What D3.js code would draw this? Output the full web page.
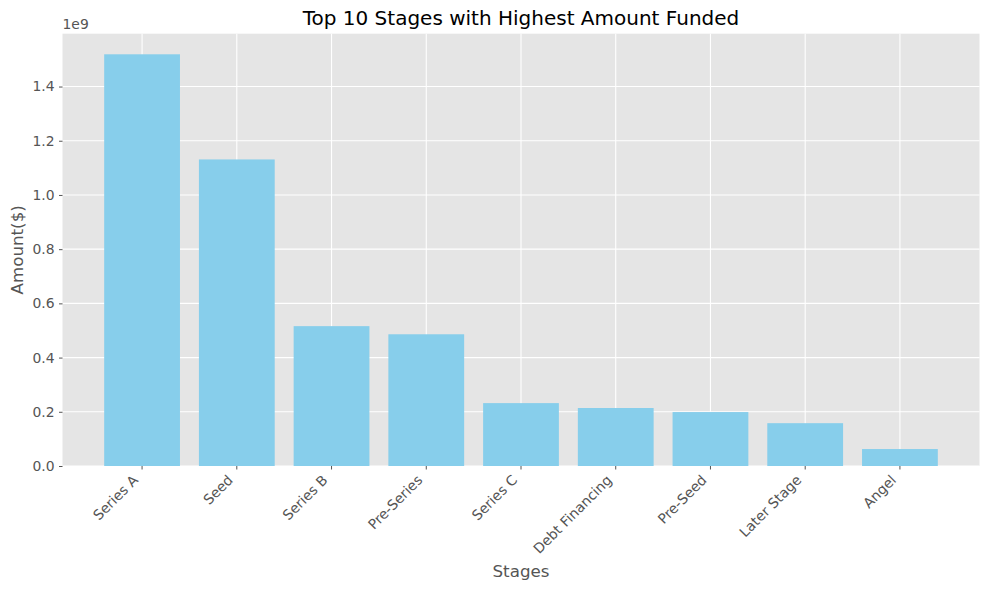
<!DOCTYPE html>
<html>
<head>
<meta charset="utf-8">
<script src="https://cdn.jsdelivr.net/npm/d3@7"></script>
<style>
  body { margin: 0; background: #fff; }
  text { font-family: "DejaVu Sans", sans-serif; }
</style>
</head>
<body>
<script>
// stages and funded amounts (dollars)
var stages = ['Series A', 'Seed', 'Series B', 'Pre-Series', 'Series C',
  'Debt Financing', 'Pre-Seed', 'Later Stage', 'Angel'];
var amounts = [1.519e9, 1.131e9, 0.516e9, 0.486e9, 0.232e9,
  0.214e9, 0.199e9, 0.158e9, 0.0626e9];
var yTicks = [0, 0.2e9, 0.4e9, 0.6e9, 0.8e9, 1.0e9, 1.2e9, 1.4e9];

var width = 989, height = 590;
var margin = {top: 33.7, right: 9.5, bottom: 124, left: 62.5};
var plotW = width - margin.left - margin.right,
    plotH = height - margin.top - margin.bottom;

var svg = d3.select("body").append("svg")
  .attr("width", width)
  .attr("height", height);

var g = svg.append("g")
  .attr("transform", "translate(" + margin.left + "," + margin.top + ")");

// scales, matplotlib-ish margins
var x = d3.scaleBand()
  .domain(stages)
  .range([0, plotW])
  .paddingInner(0.2)
  .paddingOuter(0.44);

var y = d3.scaleLinear()
  .domain([0, d3.max(amounts) * 1.05])
  .range([plotH, 0]);

// background
g.append("rect")
  .attr("width", plotW)
  .attr("height", plotH)
  .attr("fill", "#e5e5e5");

// grid
g.append("g").selectAll("line")
  .data(yTicks)
  .enter().append("line")
  .attr("x1", 0).attr("x2", plotW)
  .attr("y1", d => y(d)).attr("y2", d => y(d))
  .attr("stroke", "#fff")
  .attr("stroke-width", 1.1);

g.append("g").selectAll("line")
  .data(stages)
  .enter().append("line")
  .attr("x1", d => x(d) + x.bandwidth() / 2)
  .attr("x2", d => x(d) + x.bandwidth() / 2)
  .attr("y1", 0).attr("y2", plotH)
  .attr("stroke", "#fff")
  .attr("stroke-width", 1.1);

// bars
g.append("g").selectAll("rect")
  .data(amounts)
  .enter().append("rect")
  .attr("x", (d, i) => x(stages[i]))
  .attr("y", d => y(d))
  .attr("width", x.bandwidth())
  .attr("height", d => plotH - y(d))
  .attr("fill", "#87ceeb");

// y axis
var yAxis = g.append("g")
  .call(d3.axisLeft(y)
    .tickValues(yTicks)
    .tickSize(3.5)
    .tickPadding(4.5)
    .tickFormat(d => (d / 1e9).toFixed(1)));
yAxis.select(".domain").remove();
yAxis.selectAll("line").attr("stroke", "#555").attr("stroke-width", 1);
yAxis.selectAll("text")
  .attr("fill", "#555")
  .style("font-size", "13.9px")
  .style("font-family", "DejaVu Sans");

// x axis
var xAxis = g.append("g")
  .attr("transform", "translate(0," + plotH + ")")
  .call(d3.axisBottom(x).tickSize(3.5).tickPadding(0));
xAxis.select(".domain").remove();
xAxis.selectAll("line").attr("stroke", "#555").attr("stroke-width", 1);
xAxis.selectAll("text")
  .attr("fill", "#555")
  .style("font-size", "13.9px")
  .style("font-family", "DejaVu Sans")
  .attr("text-anchor", "end")
  .attr("dy", null)
  .attr("y", 0)
  .attr("transform", "translate(-3,15) rotate(-45)");

// offset text
g.append("text")
  .attr("x", 0)
  .attr("y", -5)
  .attr("fill", "#555")
  .style("font-size", "13.9px")
  .text("1e9");

// title and labels
svg.append("text")
  .attr("x", margin.left + plotW / 2)
  .attr("y", 25)
  .attr("text-anchor", "middle")
  .attr("fill", "#000")
  .style("font-size", "20px")
  .text("Top 10 Stages with Highest Amount Funded");

svg.append("text")
  .attr("x", margin.left + plotW / 2)
  .attr("y", 577)
  .attr("text-anchor", "middle")
  .attr("fill", "#555")
  .style("font-size", "16.7px")
  .text("Stages");

svg.append("text")
  .attr("transform", "translate(23," + (margin.top + plotH / 2) + ") rotate(-90)")
  .attr("text-anchor", "middle")
  .attr("fill", "#555")
  .style("font-size", "16.7px")
  .text("Amount($)");
</script>
</body>
</html>
